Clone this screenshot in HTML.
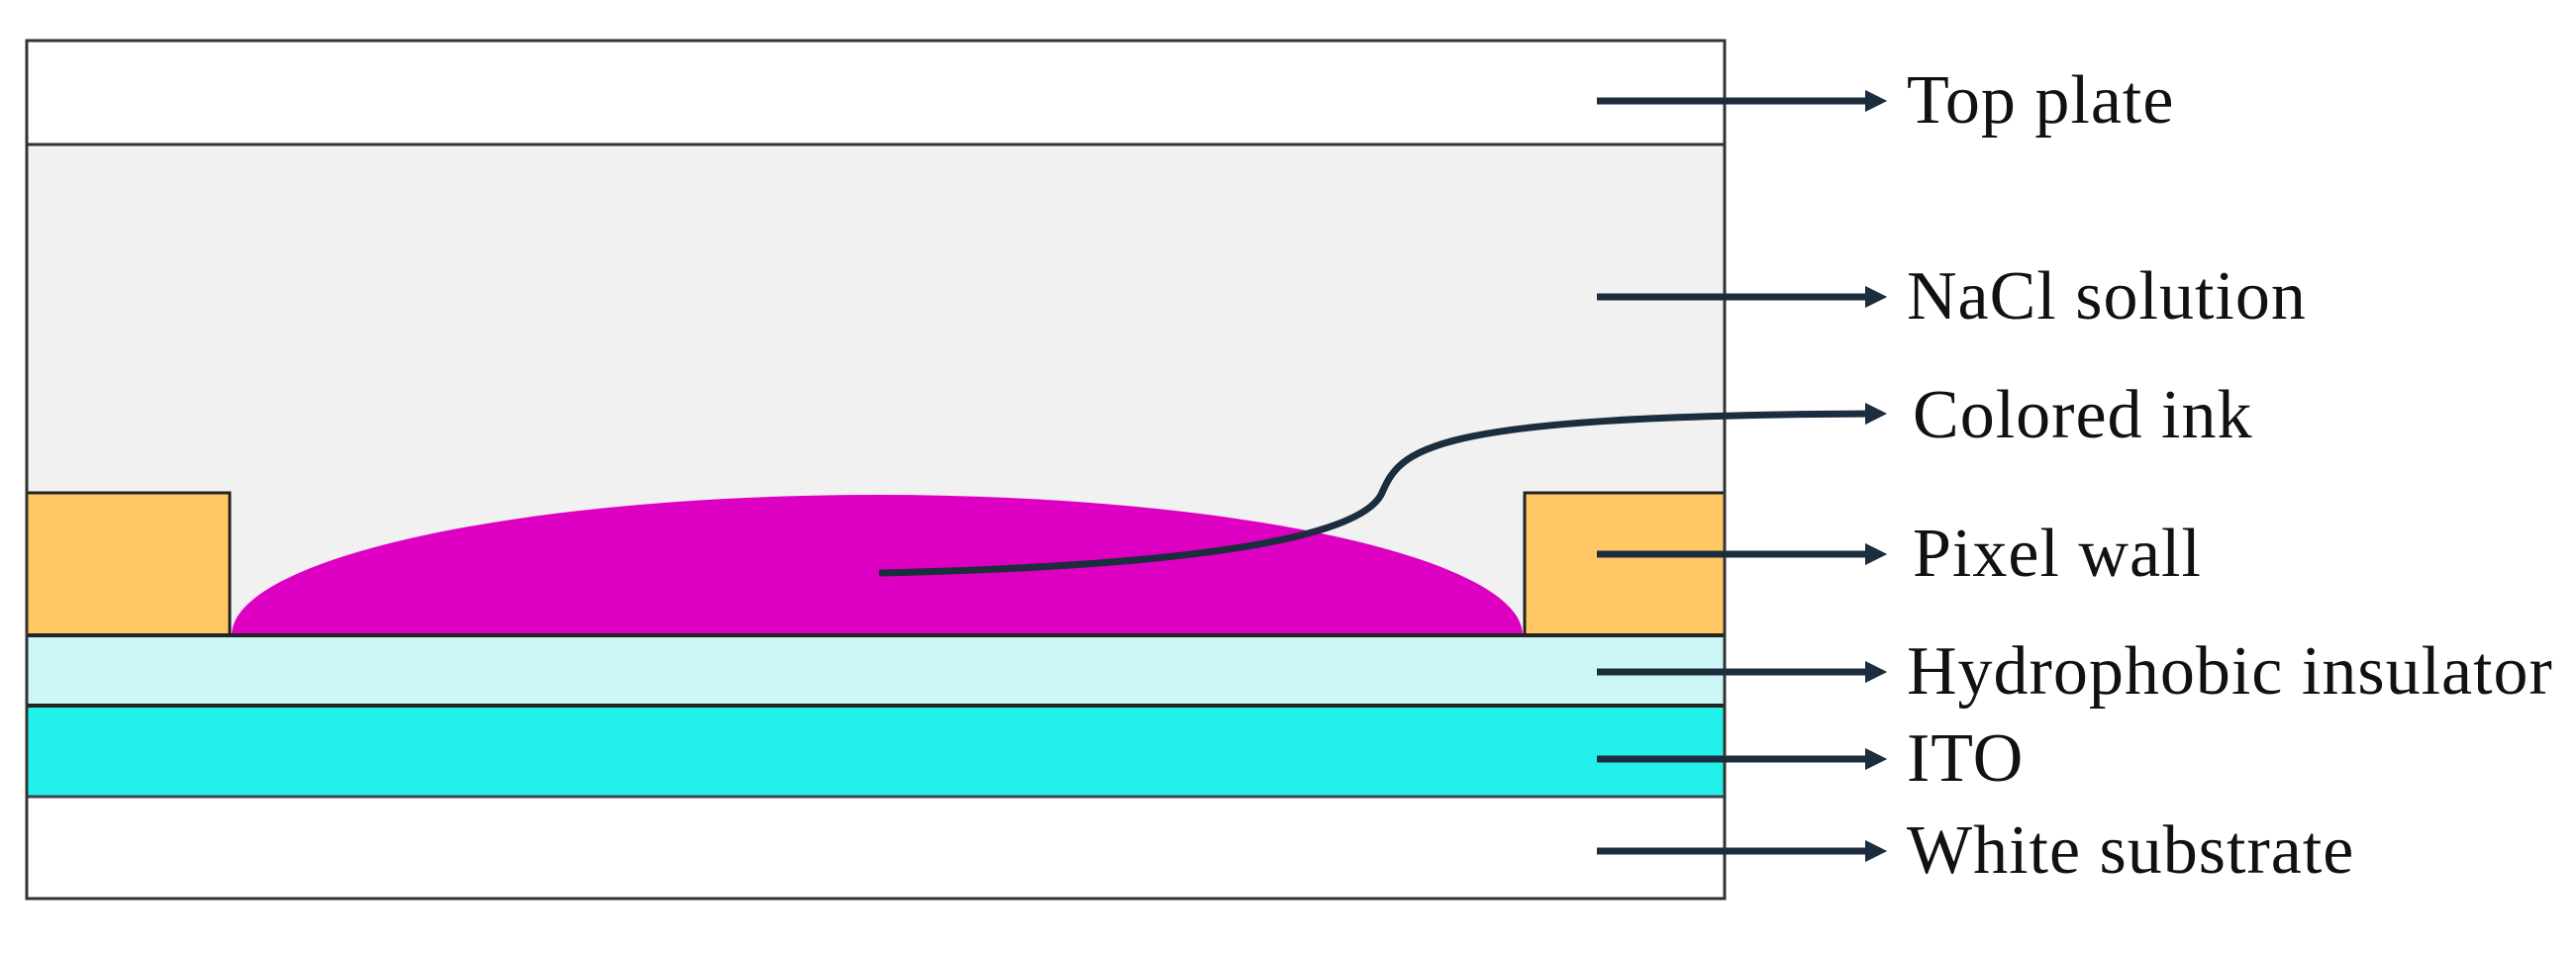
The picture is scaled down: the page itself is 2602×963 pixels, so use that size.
<!DOCTYPE html>
<html><head><style>
html,body{margin:0;padding:0;background:#fff;}
svg{display:block;}
text{font-family:"Liberation Serif",serif;font-size:70px;fill:#111;letter-spacing:1px;}
</style></head><body>
<svg width="2602" height="963" viewBox="0 0 2602 963" xmlns="http://www.w3.org/2000/svg">
<defs>
<marker id="ah" markerWidth="3.2" markerHeight="3.2" refX="1.6" refY="1.6" orient="auto" markerUnits="strokeWidth">
<path d="M0,0 L3.2,1.6 L0,3.2 Z" fill="#1c2d3e"/>
</marker>
</defs>
<rect x="27" y="41" width="1715" height="867" fill="#fff"/>
<rect x="27" y="146" width="1715" height="496" fill="#f1f1f1"/>
<line x1="27" y1="146" x2="1742" y2="146" stroke="#333" stroke-width="3"/>
<rect x="27" y="498" width="205" height="144" fill="#ffc864" stroke="#222" stroke-width="3"/>
<rect x="1540" y="498" width="202" height="144" fill="#ffc864" stroke="#222" stroke-width="3"/>
<path d="M234,642 A652,142 0 0 1 1538,642 Z" fill="#de00c2"/>
<rect x="27" y="642" width="1715" height="71" fill="#ccf6f6"/>
<rect x="27" y="713" width="1715" height="92" fill="#22f0ea"/>
<line x1="27" y1="642" x2="1742" y2="642" stroke="#222" stroke-width="4"/>
<line x1="27" y1="713" x2="1742" y2="713" stroke="#222" stroke-width="4"/>
<line x1="27" y1="805" x2="1742" y2="805" stroke="#445" stroke-width="3"/>
<rect x="27" y="41" width="1715" height="867" fill="none" stroke="#333" stroke-width="3"/>
<g stroke="#1c2d3e" stroke-width="7" fill="none" marker-end="url(#ah)">
<line x1="1613" y1="102" x2="1895" y2="102"/>
<line x1="1613" y1="300" x2="1895" y2="300"/>
<line x1="1613" y1="560" x2="1895" y2="560"/>
<line x1="1613" y1="679" x2="1895" y2="679"/>
<line x1="1613" y1="767" x2="1895" y2="767"/>
<line x1="1613" y1="860" x2="1895" y2="860"/>
<path d="M888,579 C1200,572 1370,545 1395,500 C1415,455 1430,420 1895,418"/>
</g>
<text x="1926" y="124">Top plate</text>
<text x="1926" y="322">NaCl solution</text>
<text x="1932" y="442">Colored ink</text>
<text x="1932" y="582">Pixel wall</text>
<text x="1926" y="701">Hydrophobic insulator</text>
<text x="1926" y="789">ITO</text>
<text x="1926" y="882">White substrate</text>
</svg>
</body></html>
